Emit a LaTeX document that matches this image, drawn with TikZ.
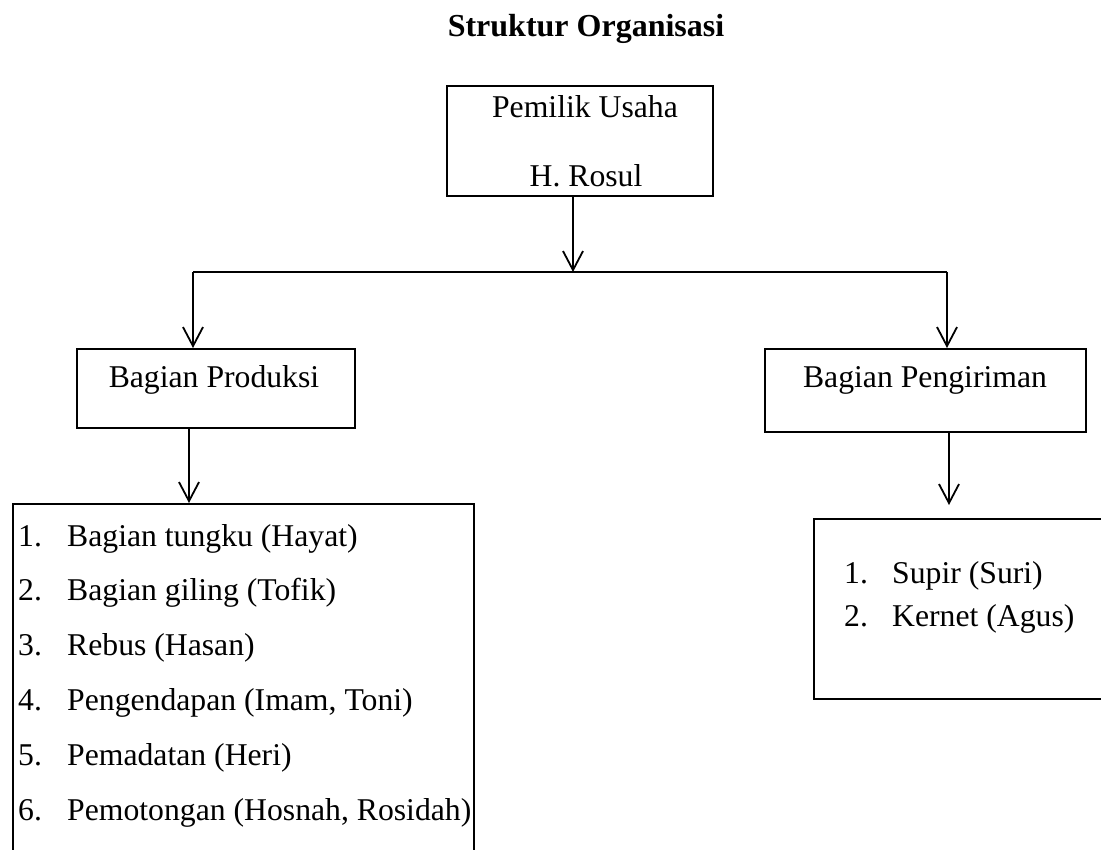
\documentclass[tikz,border=0pt]{standalone}
\usepackage{fontspec}
\setmainfont{Liberation Serif}
\usepackage{tikz}
\usetikzlibrary{calc}
\usetikzlibrary{positioning}
\usetikzlibrary{arrows.meta}
\tikzset{
  org_text/.style = {inner sep=0pt, anchor=base,
    font=\fontsize{31.7}{38}\selectfont},
  item_text/.style = {org_text, anchor=base west},
  title_text/.style = {org_text, font=\fontsize{32}{38}\selectfont\bfseries},
  box_node/.style = {rectangle, draw=black, line width=1.8pt, inner sep=0pt,
    anchor=north west},
  link_line/.style = {draw=black, line width=1.8pt},
  link_arrow/.style = {link_line, -{Straight Barb[length=19pt, width=20pt]}}
}
\begin{document}
\begin{tikzpicture}[x=1pt, y=-1pt]
  \useasboundingbox (0,0) rectangle (1101,850);
  \clip (0,0) rectangle (1101,850);
  \node [title_text] (judul) at (586,37) {Struktur Organisasi};

  \node [box_node, minimum width=266pt, minimum height=110pt] (pemilik) at (446,85) {};
  \node [org_text] (pemilik_a) at (585,118) {Pemilik Usaha};
  \node [org_text] (pemilik_b) at (586,187) {H. Rosul};

  \node [box_node, minimum width=278pt, minimum height=79pt] (produksi) at (76,348) {};
  \node [org_text] (produksi_t) at (214,388) {Bagian Produksi};
  \node [box_node, minimum width=321pt, minimum height=83pt] (kirim) at (764,348) {};
  \node [org_text] (kirim_t) at (925,388) {Bagian Pengiriman};

  \node [box_node, minimum width=461pt, minimum height=400pt] (daftar_prod) at (12,503) {};
  \node [box_node, minimum width=320pt, minimum height=180pt] (daftar_kirim) at (813,518) {};

  \foreach \txt [count=\i] in {Bagian tungku (Hayat), Bagian giling (Tofik),
      Rebus (Hasan), {Pengendapan (Imam, Toni)}, Pemadatan (Heri),
      {Pemotongan (Hosnah, Rosidah)}} {
    \node [item_text] (no_prod\i) at (18,{546+(\i-1)*54.8}) {\i.};
    \node [item_text] (isi_prod\i) at (67,{546+(\i-1)*54.8}) {\txt};
  }
  \foreach \txt [count=\i] in {Supir (Suri), Kernet (Agus)} {
    \node [item_text] (no_kirim\i) at (844,{583+(\i-1)*43}) {\i.};
    \node [item_text] (isi_kirim\i) at (892,{583+(\i-1)*43}) {\txt};
  }

  \coordinate (hub) at (573,272);
  \coordinate (cabang_l) at (193,272);
  \coordinate (cabang_r) at (947,272);
  \coordinate (kolom_prod) at (189,0);
  \coordinate (ujung_kirim) at (949,505);

  \draw [link_arrow] (pemilik.south -| hub) -- (hub);
  \draw [link_line] (cabang_l) -- (cabang_r);
  \draw [link_arrow] (cabang_l) -- (cabang_l |- produksi.north);
  \draw [link_arrow] (cabang_r) -- (cabang_r |- kirim.north);
  \draw [link_arrow] (kolom_prod |- produksi.south) -- (kolom_prod |- daftar_prod.north);
  \draw [link_arrow] (ujung_kirim |- kirim.south) -- (ujung_kirim);
\end{tikzpicture}
\end{document}
